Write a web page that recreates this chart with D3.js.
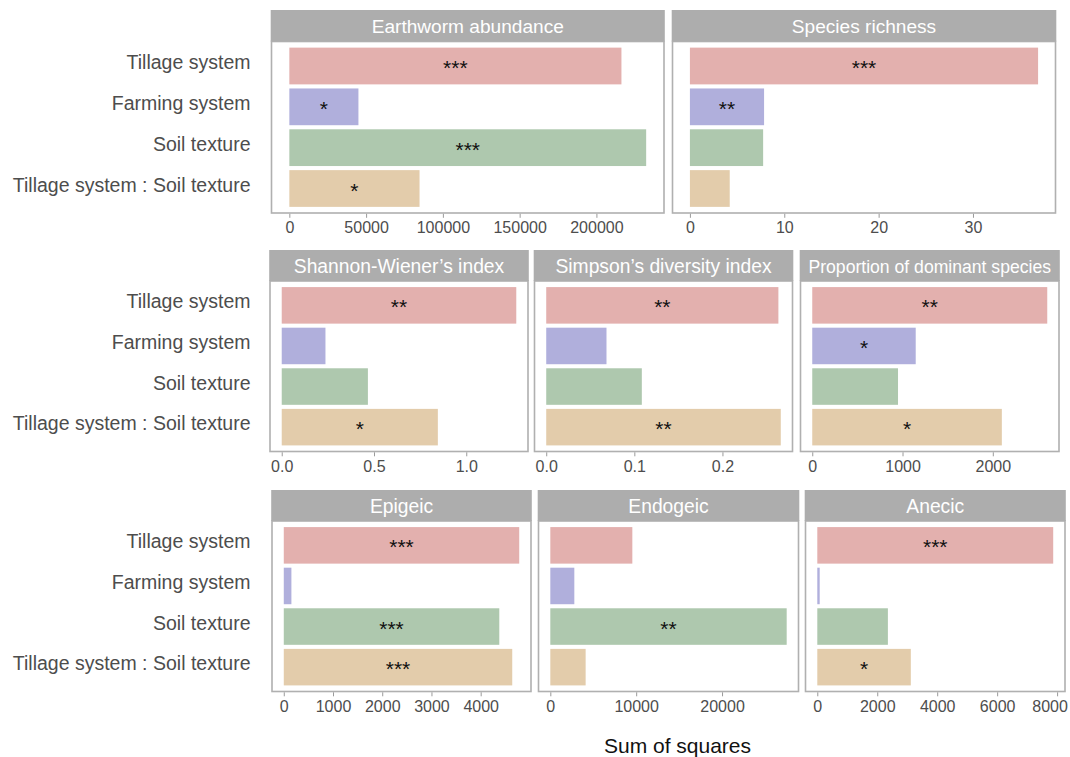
<!DOCTYPE html>
<html>
<head>
<meta charset="utf-8">
<script src="https://cdn.jsdelivr.net/npm/d3@7"></script>
<style>
  html, body { margin: 0; padding: 0; background: #fff; }
  svg { display: block; font-family: "Liberation Sans", Arial, sans-serif; }
</style>
</head>
<body>
<svg id="chart" width="1070" height="757"></svg>
<script>
// Model terms (rows of every panel, top to bottom)
const factors = ["Tillage system", "Farming system", "Soil texture", "Tillage system : Soil texture"];
const factorColors = ["#e3b0ae", "#b0afdc", "#aec8ae", "#e3ccab"];

// Sum of squares per response variable, in the order of `factors`
const earthwormAbundance = [216300, 45000, 232400, 84800];
const speciesRichness    = [36.9, 7.86, 7.76, 4.22];
const shannonWiener      = [1.271, 0.237, 0.467, 0.846];
const simpsonDiversity   = [0.2635, 0.0684, 0.1085, 0.2662];
const dominantProportion = [2603, 1146, 950, 2100];
const epigeic            = [4783, 155, 4378, 4641];
const endogeic           = [9553, 2796, 27530, 4113];
const anecic             = [7870, 80, 2355, 3120];

// Significance codes per response variable
const sigEarthworm = ["***", "*", "***", "*"];
const sigRichness  = ["***", "**", "", ""];
const sigShannon   = ["**", "", "", "*"];
const sigSimpson   = ["**", "", "", "**"];
const sigDominant  = ["**", "*", "", "*"];
const sigEpigeic   = ["***", "", "***", "***"];
const sigEndogeic  = ["", "", "**", ""];
const sigAnecic    = ["***", "", "", "*"];

// Axis breaks per response variable
const ticksEarthworm = [0, 50000, 100000, 150000, 200000];
const ticksRichness  = [0, 10, 20, 30];
const ticksShannon   = [0, 0.5, 1.0];
const ticksSimpson   = [0, 0.1, 0.2];
const ticksDominant  = [0, 1000, 2000];
const ticksEpigeic   = [0, 1000, 2000, 3000, 4000];
const ticksEndogeic  = [0, 10000, 20000];
const ticksAnecic    = [0, 2000, 4000, 6000, 8000];

const xTitle = "Sum of squares";

// Figure layout: three rows of facet panels
const rows = [
  { stripTop: 10, top: 41.5, bottom: 213, panels: [
    { title: "Earthworm abundance", values: earthwormAbundance, sig: sigEarthworm, ticks: ticksEarthworm, fmt: d3.format("d"), left: 271.5, right: 664, stripSize: 19.1 },
    { title: "Species richness", values: speciesRichness, sig: sigRichness, ticks: ticksRichness, fmt: d3.format("d"), left: 672.5, right: 1055.5, stripSize: 19.1 }
  ]},
  { stripTop: 250, top: 281, bottom: 451.5, panels: [
    { title: "Shannon-Wiener\u2019s index", values: shannonWiener, sig: sigShannon, ticks: ticksShannon, fmt: d3.format(".1f"), left: 270, right: 528, stripSize: 19.3 },
    { title: "Simpson\u2019s diversity index", values: simpsonDiversity, sig: sigSimpson, ticks: ticksSimpson, fmt: d3.format(".1f"), left: 534.5, right: 792.5, stripSize: 19.3 },
    { title: "Proportion of dominant species", values: dominantProportion, sig: sigDominant, ticks: ticksDominant, fmt: d3.format("d"), left: 800.5, right: 1059, stripSize: 17.6 }
  ]},
  { stripTop: 490, top: 521, bottom: 691.5, panels: [
    { title: "Epigeic", values: epigeic, sig: sigEpigeic, ticks: ticksEpigeic, fmt: d3.format("d"), left: 272, right: 531, stripSize: 19.3 },
    { title: "Endogeic", values: endogeic, sig: sigEndogeic, ticks: ticksEndogeic, fmt: d3.format("d"), left: 538.5, right: 798.5, stripSize: 19.3 },
    { title: "Anecic", values: anecic, sig: sigAnecic, ticks: ticksAnecic, fmt: d3.format("d"), left: 805.5, right: 1065, stripSize: 19.3 }
  ]}
];

const svg = d3.select("#chart");
const borderColor = "#b0b0b0";
const stripColor = "#adadad";
const textGray = "#4d4d4d";
const rightLimit = 1068;

rows.forEach(row => {
  const y = d3.scaleBand()
    .domain(factors)
    .range([row.top, row.bottom])
    .paddingInner(0.1)
    .paddingOuter(0.15);

  // Row labels on the left of the first panel
  svg.append("g")
    .selectAll("text")
    .data(factors)
    .join("text")
    .attr("x", 250.5)
    .attr("y", d => y(d) + y.bandwidth() / 2 + 3)
    .attr("text-anchor", "end")
    .attr("font-size", 19.5)
    .attr("fill", textGray)
    .text(d => d);

  row.panels.forEach(p => {
    const max = d3.max(p.values);
    const x = d3.scaleLinear()
      .domain([-0.05 * max, 1.05 * max])
      .range([p.left, p.right]);

    const g = svg.append("g");
    const rowsData = factors.map((f, i) => ({ f, v: p.values[i], s: p.sig[i], c: factorColors[i] }));

    // Panel background and bars
    g.append("rect")
      .attr("x", p.left).attr("y", row.top)
      .attr("width", p.right - p.left).attr("height", row.bottom - row.top)
      .attr("fill", "#fff");

    g.selectAll("rect.bar")
      .data(rowsData)
      .join("rect")
      .attr("class", "bar")
      .attr("x", x(0))
      .attr("y", d => y(d.f))
      .attr("width", d => x(d.v) - x(0))
      .attr("height", y.bandwidth())
      .attr("fill", d => d.c);

    // Significance codes centred on each bar
    g.selectAll("text.sig")
      .data(rowsData.filter(d => d.s))
      .join("text")
      .attr("class", "sig")
      .attr("x", d => x(d.v / 2))
      .attr("y", d => y(d.f) + y.bandwidth() / 2 + 9)
      .attr("text-anchor", "middle")
      .attr("font-size", 21)
      .attr("fill", "#111")
      .text(d => d.s);

    // Panel border
    g.append("rect")
      .attr("x", p.left).attr("y", row.top)
      .attr("width", p.right - p.left).attr("height", row.bottom - row.top)
      .attr("fill", "none")
      .attr("stroke", borderColor)
      .attr("stroke-width", 1.6);

    // Facet strip
    g.append("rect")
      .attr("x", p.left - 0.8).attr("y", row.stripTop)
      .attr("width", p.right - p.left + 1.6).attr("height", row.top - row.stripTop)
      .attr("fill", stripColor);
    g.append("text")
      .attr("x", (p.left + p.right) / 2)
      .attr("y", row.stripTop + (row.top - row.stripTop) / 2 + 7)
      .attr("text-anchor", "middle")
      .attr("font-size", p.stripSize)
      .attr("fill", "#fff")
      .text(p.title);

    // Bottom axis
    const axis = d3.axisBottom(x)
      .tickValues(p.ticks)
      .tickFormat(p.fmt)
      .tickSize(4)
      .tickPadding(4);
    const ax = svg.append("g")
      .attr("transform", `translate(0,${row.bottom + 0.8})`)
      .call(axis);
    ax.select(".domain").remove();
    ax.selectAll(".tick line").attr("stroke", "#9a9a9a");
    ax.selectAll(".tick text")
      .attr("font-size", 16)
      .attr("font-family", "\"Liberation Sans\", Arial, sans-serif")
      .attr("fill", textGray)
      .each(function () {
        // keep labels at the figure edge inside the canvas
        const b = this.getBBox();
        const tx = d3.select(this.parentNode).attr("transform");
        const cx = +tx.match(/translate\(([-\d.]+)/)[1];
        const overflow = cx + b.x + b.width - rightLimit;
        if (overflow > 0) d3.select(this).attr("x", -overflow);
      });
  });
});

// Shared x-axis title
svg.append("text")
  .attr("x", 677.5)
  .attr("y", 753)
  .attr("text-anchor", "middle")
  .attr("font-size", 21)
  .attr("fill", "#111")
  .text(xTitle);
</script>
</body>
</html>
